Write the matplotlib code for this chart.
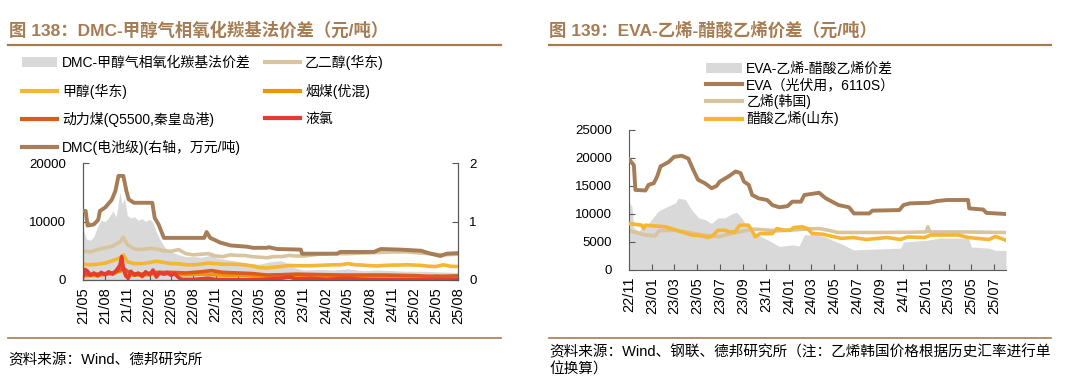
import matplotlib
matplotlib.use('Agg')
import matplotlib.pyplot as plt
import matplotlib.dates as mdates
import pandas as pd
from matplotlib.lines import Line2D
from matplotlib.patches import Patch

plt.rcParams['font.family'] = ['Liberation Sans', 'Noto Sans CJK SC']
plt.rcParams['axes.unicode_minus'] = False

# ---------------- left chart: DMC spread ----------------
spread_dates = ['2021-05-01', '2021-05-15', '2021-06-01', '2021-06-15', '2021-07-01', '2021-07-15',
                '2021-08-01', '2021-08-15', '2021-09-01', '2021-09-15', '2021-10-01', '2021-10-10',
                '2021-10-20', '2021-11-01', '2021-11-15', '2021-12-01', '2021-12-15', '2022-01-01',
                '2022-01-15', '2022-02-01', '2022-02-15', '2022-03-01', '2022-03-15', '2022-04-01',
                '2022-04-15', '2022-05-01', '2022-06-01', '2022-07-01', '2022-08-01', '2022-09-01',
                '2022-10-01', '2022-10-15', '2022-11-01', '2022-12-01', '2023-01-01', '2023-02-01',
                '2023-03-01', '2023-04-01', '2023-05-01', '2023-06-01', '2023-07-01', '2023-08-01',
                '2023-09-01', '2023-10-01', '2023-11-01', '2024-01-01', '2024-03-01', '2024-05-01',
                '2024-07-01', '2024-09-01', '2024-11-01', '2025-01-01', '2025-03-01', '2025-05-01',
                '2025-08-01']
spread = [8800, 7000, 6800, 7400, 9200, 10200, 10000, 10600, 11800, 10800, 15000, 13000,
          14000, 11000, 10600, 10800, 10200, 10500, 10000, 10400, 9800, 8200, 7000, 5800,
          5200, 4800, 4300, 4000, 4000, 3900, 4100, 4900, 3800, 3600, 3400, 3200,
          2900, 2800, 2700, 3000, 3200, 3300, 2700, 2000, 1700, 1800, 1700, 1900,
          1600, 1700, 1600, 1500, 1500, 1400, 1300]

meg_dates = ['2021-05-01', '2021-06-01', '2021-07-01', '2021-08-01', '2021-09-01', '2021-10-01',
             '2021-10-15', '2021-11-01', '2021-12-01', '2022-01-01', '2022-02-01', '2022-03-01',
             '2022-04-01', '2022-05-01', '2022-06-01', '2022-07-01', '2022-08-01', '2022-09-01',
             '2022-10-01', '2022-11-01', '2022-12-01', '2023-01-01', '2023-02-01', '2023-03-01',
             '2023-04-01', '2023-05-01', '2023-06-01', '2023-07-01', '2023-08-01', '2023-09-01',
             '2023-10-01', '2023-11-01', '2024-01-01', '2024-03-01', '2024-05-01', '2024-07-01',
             '2024-09-01', '2024-11-01', '2025-01-01', '2025-03-01', '2025-05-01', '2025-06-01',
             '2025-08-01']
meg = [5000, 4800, 5200, 5500, 5800, 6500, 7300, 6000, 5300, 5200, 5400, 5300,
       5000, 4900, 5200, 4500, 4300, 4400, 4500, 4100, 4000, 4300, 4200, 4200,
       4000, 3900, 3800, 4000, 4000, 4200, 4100, 4100, 4400, 4500, 4500, 4600,
       4700, 4800, 4800, 4600, 4400, 4300, 4400]

meoh_dates = ['2021-05-01', '2021-06-01', '2021-07-01', '2021-08-01', '2021-09-01', '2021-10-01',
              '2021-10-15', '2021-11-01', '2021-12-01', '2022-01-01', '2022-02-01', '2022-03-01',
              '2022-04-01', '2022-05-01', '2022-06-01', '2022-07-01', '2022-08-01', '2022-09-01',
              '2022-10-01', '2022-11-01', '2022-12-01', '2023-01-01', '2023-02-01', '2023-03-01',
              '2023-04-01', '2023-05-01', '2023-06-01', '2023-07-01', '2023-08-01', '2023-09-01',
              '2023-10-01', '2023-11-01', '2023-12-01', '2024-01-01', '2024-02-01', '2024-03-01',
              '2024-04-01', '2024-05-01', '2024-06-01', '2024-07-01', '2024-08-01', '2024-09-01',
              '2024-10-01', '2024-11-01', '2024-12-01', '2025-01-01', '2025-02-01', '2025-03-01',
              '2025-04-01', '2025-05-01', '2025-06-01', '2025-07-01', '2025-08-01']
meoh = [2700, 2600, 2700, 2900, 3300, 3800, 4300, 3100, 2800, 2800, 3000, 3200,
        3000, 2800, 2800, 2600, 2600, 2700, 2900, 2800, 2700, 2700, 2650, 2600,
        2400, 2150, 2050, 2200, 2300, 2500, 2450, 2450, 2450, 2500, 2550, 2600,
        2600, 2800, 2600, 2550, 2450, 2400, 2500, 2550, 2550, 2600, 2550, 2500,
        2350, 2300, 2600, 2350, 2300]

coal_dates = ['2021-05-01', '2021-07-01', '2021-09-01', '2021-10-15', '2021-11-15', '2022-01-01',
              '2022-03-01', '2022-05-01', '2022-07-01', '2022-09-01', '2022-11-01', '2023-01-01',
              '2023-03-01', '2023-05-01', '2023-07-01', '2023-09-01', '2023-11-01', '2024-01-01',
              '2024-03-01', '2024-05-01', '2024-07-01', '2024-09-01', '2024-11-01', '2025-01-01',
              '2025-03-01', '2025-05-01', '2025-08-01']
coal = [700, 800, 1100, 1700, 900, 800, 1100, 1000, 900, 1000, 900, 800,
        800, 600, 550, 650, 650, 600, 550, 550, 550, 550, 550, 500,
        450, 400, 450]

steam_dates = ['2021-05-01', '2021-07-01', '2021-09-01', '2021-10-15', '2021-11-15', '2022-01-01',
               '2022-03-01', '2022-05-01', '2022-07-01', '2022-09-01', '2022-10-15', '2022-12-01',
               '2023-02-01', '2023-04-01', '2023-06-01', '2023-08-01', '2023-10-01', '2023-12-01',
               '2024-02-01', '2024-04-01', '2024-06-01', '2024-08-01', '2024-10-01', '2024-12-01',
               '2025-02-01', '2025-04-01', '2025-06-01', '2025-08-01']
steam = [900, 1000, 1200, 2000, 1100, 1000, 1300, 1300, 1200, 1400, 1600, 1300,
         1200, 1100, 850, 900, 1000, 950, 900, 850, 850, 850, 850, 800,
         750, 650, 650, 700]

cl_dates = ['2021-05-01', '2021-05-10', '2021-05-20', '2021-06-01', '2021-06-15', '2021-07-01',
            '2021-07-15', '2021-08-01', '2021-08-15', '2021-09-01', '2021-09-15', '2021-10-01',
            '2021-10-08', '2021-10-15', '2021-10-25', '2021-11-05', '2021-11-15', '2021-12-01',
            '2021-12-15', '2022-01-01', '2022-01-15', '2022-02-01', '2022-02-15', '2022-03-01',
            '2022-03-15', '2022-04-01', '2022-04-15', '2022-05-01', '2022-05-15', '2022-06-01',
            '2022-06-15', '2022-08-01', '2022-10-01', '2022-11-01', '2023-01-01', '2023-05-01',
            '2023-08-01', '2023-09-01', '2023-10-01', '2023-12-01', '2024-02-01', '2024-05-01',
            '2024-07-01', '2024-09-01', '2025-01-01', '2025-08-01']
cl = [600, 1800, 1500, 800, 1200, 700, 1300, 900, 1400, 1000, 1600, 2500,
      4000, 2000, 700, 300, 1500, 800, 1200, 600, 1400, 900, 1700, 500,
      1300, 1000, 1300, 800, 1100, 400, 100, 100, 300, 100, 50, 50,
      300, 500, 200, 300, 100, 300, 100, 50, 50, 50]

dmc_dates = ['2021-05-01', '2021-05-12', '2021-05-20', '2021-06-15', '2021-07-03', '2021-07-10',
             '2021-08-01', '2021-08-28', '2021-09-12', '2021-09-25', '2021-10-15', '2021-10-28',
             '2021-11-06', '2021-11-28', '2022-02-12', '2022-02-22', '2022-03-10', '2022-04-01',
             '2022-09-15', '2022-09-25', '2022-10-10', '2022-11-20', '2023-01-03', '2023-03-10',
             '2023-04-05', '2023-06-01', '2023-06-10', '2023-07-13', '2023-10-20', '2023-10-25',
             '2024-03-18', '2024-04-01', '2024-08-18', '2024-09-15', '2024-12-05', '2025-03-01',
             '2025-04-10', '2025-05-20', '2025-06-15', '2025-08-01']
dmc = [1.18, 1.18, 0.93, 0.95, 1.03, 1.18, 1.24, 1.37, 1.52, 1.78, 1.78, 1.52,
       1.38, 1.32, 1.32, 1.06, 0.95, 0.72, 0.72, 0.82, 0.72, 0.64, 0.59, 0.57,
       0.55, 0.55, 0.56, 0.53, 0.52, 0.45, 0.45, 0.48, 0.48, 0.53, 0.52, 0.50,
       0.45, 0.41, 0.45, 0.46]

left_ticks = ['2021-05-01', '2021-08-01', '2021-11-01', '2022-02-01', '2022-05-01', '2022-08-01',
              '2022-11-01', '2023-02-01', '2023-05-01', '2023-08-01', '2023-11-01', '2024-02-01',
              '2024-05-01', '2024-08-01', '2024-11-01', '2025-02-01', '2025-05-01', '2025-08-01']

# ---------------- right chart: EVA spread ----------------
eva_dates = ['2022-11-01', '2022-11-14', '2022-11-18', '2022-12-15', '2022-12-23', '2023-01-06',
             '2023-01-15', '2023-01-24', '2023-02-15', '2023-03-01', '2023-03-21', '2023-04-08',
             '2023-04-21', '2023-05-04', '2023-05-22', '2023-06-09', '2023-06-22', '2023-07-01',
             '2023-07-24', '2023-08-12', '2023-08-25', '2023-09-03', '2023-09-16', '2023-09-25',
             '2023-10-12', '2023-11-04', '2023-11-18', '2023-12-06', '2023-12-28', '2024-01-10',
             '2024-02-02', '2024-02-11', '2024-03-03', '2024-03-21', '2024-04-08', '2024-04-25',
             '2024-05-12', '2024-06-09', '2024-06-22', '2024-08-02', '2024-08-10', '2024-10-21',
             '2024-11-01', '2024-11-18', '2025-01-09', '2025-01-28', '2025-02-24', '2025-04-22',
             '2025-04-25', '2025-06-01', '2025-06-10', '2025-08-01']
eva = [19800, 18700, 14300, 14200, 15200, 15500, 16700, 18500, 19300, 20200, 20400, 19900,
       17900, 16100, 15500, 14600, 15000, 15800, 16700, 17600, 17300, 15800, 15200, 13400,
       12800, 12500, 11600, 11200, 11400, 12200, 12200, 13400, 13600, 13800, 12800, 12200,
       11600, 11200, 10100, 10100, 10600, 10700, 11600, 11900, 12000, 12300, 12500, 12500,
       11000, 10800, 10200, 10000]

eth_dates = ['2022-11-01', '2022-12-15', '2023-01-10', '2023-01-20', '2023-03-01', '2023-04-01',
             '2023-05-15', '2023-06-30', '2023-07-15', '2023-08-20', '2023-10-01', '2023-12-01',
             '2024-02-15', '2024-03-20', '2024-04-15', '2024-05-10', '2024-09-01', '2024-12-01',
             '2025-01-01', '2025-01-05', '2025-01-10', '2025-04-01', '2025-08-01']
eth = [7000, 6250, 6100, 7000, 7100, 6800, 6250, 5950, 6250, 6800, 7300, 7000,
       7300, 7400, 7100, 6700, 6700, 6750, 6800, 7700, 6800, 6800, 6700]

va_dates = ['2022-11-01', '2022-12-05', '2022-12-10', '2022-12-15', '2023-02-07', '2023-03-12',
            '2023-04-17', '2023-05-13', '2023-05-31', '2023-06-13', '2023-06-26', '2023-07-14',
            '2023-07-27', '2023-08-10', '2023-08-23', '2023-09-15', '2023-09-24', '2023-10-03',
            '2023-10-16', '2023-11-17', '2023-11-30', '2023-12-18', '2024-01-05', '2024-01-14',
            '2024-02-06', '2024-02-19', '2024-03-03', '2024-03-30', '2024-04-26', '2024-05-19',
            '2024-06-20', '2024-07-25', '2024-09-18', '2024-10-24', '2024-11-12', '2024-12-27',
            '2025-01-13', '2025-03-27', '2025-04-23', '2025-06-17', '2025-07-04', '2025-08-01']
va = [8300, 8000, 7400, 8000, 7700, 7000, 6250, 6100, 5800, 6200, 7100, 7100,
      6800, 6800, 8000, 8000, 7100, 5950, 6500, 6500, 7400, 7100, 7100, 7600,
      7700, 7400, 6500, 6400, 6000, 5650, 5800, 5450, 5800, 5450, 5900, 5800,
      6250, 6250, 5800, 5450, 6000, 5300]

eva_sp_dates = ['2022-11-01', '2022-11-09', '2022-11-14', '2022-11-27', '2022-12-23', '2023-01-18',
                '2023-02-07', '2023-03-05', '2023-03-12', '2023-03-31', '2023-04-17', '2023-05-06',
                '2023-05-22', '2023-06-09', '2023-06-26', '2023-07-14', '2023-08-01', '2023-08-15',
                '2023-08-28', '2023-09-06', '2023-09-24', '2023-10-12', '2023-11-08', '2023-12-06',
                '2024-01-10', '2024-01-28', '2024-02-11', '2024-03-13', '2024-04-08', '2024-04-26',
                '2024-05-19', '2024-06-20', '2024-10-24', '2024-11-01', '2025-01-01', '2025-02-05',
                '2025-04-23', '2025-05-01', '2025-06-17', '2025-07-04', '2025-08-01']
eva_sp = [12200, 11300, 7500, 7000, 8300, 10500, 11200, 12000, 12800, 12600, 10700, 9300,
          9000, 8300, 9300, 9300, 10000, 10300, 9300, 8300, 6500, 6200, 5300, 4200,
          4500, 4300, 6300, 6300, 5900, 5300, 4700, 3600, 3900, 5000, 5300, 5700,
          5700, 4100, 3900, 3500, 3500]

right_ticks = ['2022-11-01', '2023-01-01', '2023-03-01', '2023-05-01', '2023-07-01', '2023-09-01',
               '2023-11-01', '2024-01-01', '2024-03-01', '2024-05-01', '2024-07-01', '2024-09-01',
               '2024-11-01', '2025-01-01', '2025-03-01', '2025-05-01', '2025-07-01']

BROWN = '#A67D56'
TITLE = '#A67C52'
GRAY = '#D9D9D9'
BEIGE = '#D8C49E'
YELLOW = '#F6B532'
ORANGE = '#F39300'
DKORANGE = '#DC5A1E'
RED = '#E63B2E'
SPINE = '#595959'

W, H = 1072, 385
fig = plt.figure(figsize=(W / 100, H / 100), dpi=100)


def fx(px):
    return px / W


def fy(py):
    return 1 - py / H


def d(lst):
    return pd.to_datetime(lst)


# titles and rules
fig.text(fx(9), fy(30), '图 138：DMC-甲醇气相氧化羰基法价差（元/吨）', fontsize=12.5,
         fontweight='bold', color=TITLE, va='center', ha='left')
fig.text(fx(549), fy(30), '图 139：EVA-乙烯-醋酸乙烯价差（元/吨）', fontsize=12.5,
         fontweight='bold', color=TITLE, va='center', ha='left')
for x0, x1 in [(8, 501), (549, 1051)]:
    fig.add_artist(Line2D([fx(x0), fx(x1)], [fy(45), fy(45)], color=TITLE, lw=1.6,
                          transform=fig.transFigure))
    fig.add_artist(Line2D([fx(x0), fx(x1)], [fy(338), fy(338)], color=TITLE, lw=1.2,
                          transform=fig.transFigure))
fig.text(fx(8), fy(360), '资料来源：Wind、德邦研究所', fontsize=10.5, va='center', ha='left')
fig.text(fx(549), fy(352), '资料来源：Wind、钢联、德邦研究所（注：乙烯韩国价格根据历史汇率进行单',
         fontsize=10.5, va='center', ha='left')
fig.text(fx(549), fy(370), '位换算）', fontsize=10.5, va='center', ha='left')

# ---------------- left axes ----------------
ax1 = fig.add_axes([fx(83), fy(280), fx(458 - 83), (280 - 163) / H])
ax1.fill_between(d(spread_dates), spread, color=GRAY, lw=0, zorder=1)
ax1.plot(d(meg_dates), meg, color=BEIGE, lw=2.6, zorder=2)
ax1.plot(d(meoh_dates), meoh, color=YELLOW, lw=2.6, zorder=3)
ax1.plot(d(coal_dates), coal, color=ORANGE, lw=2.6, zorder=3)
ax1.plot(d(steam_dates), steam, color=DKORANGE, lw=2.6, zorder=3)
ax1.plot(d(cl_dates), cl, color=RED, lw=2.6, zorder=4)
ax1.set_ylim(0, 20000)
ax1.set_yticks([0, 10000, 20000])
ax1.set_xlim(pd.Timestamp('2021-05-01'), pd.Timestamp('2025-08-01'))
ax1.set_xticks(d(left_ticks))
ax1.xaxis.set_major_formatter(mdates.DateFormatter('%y/%m'))

ax1r = ax1.twinx()
ax1r.plot(d(dmc_dates), dmc, color=BROWN, lw=2.8, zorder=5)
ax1r.set_ylim(0, 2)
ax1r.set_yticks([0, 1, 2])

for a in (ax1, ax1r):
    a.spines['top'].set_visible(False)
    for s in ('left', 'right', 'bottom'):
        a.spines[s].set_color(SPINE)
    a.tick_params(direction='in', length=4, color=SPINE, labelsize=9.5)
ax1.tick_params(axis='x', labelrotation=90, pad=5, labelsize=10.5)
ax1.tick_params(axis='y', pad=12)
ax1r.tick_params(axis='y', pad=8)

# ---------------- right axes ----------------
ax2 = fig.add_axes([fx(629), fy(270), fx(1006 - 629), (270 - 130) / H])
ax2.fill_between(d(eva_sp_dates), eva_sp, color=GRAY, lw=0, zorder=1)
ax2.plot(d(eva_dates), eva, color=BROWN, lw=2.8, zorder=4)
ax2.plot(d(eth_dates), eth, color=BEIGE, lw=2.6, zorder=2)
ax2.plot(d(va_dates), va, color=YELLOW, lw=2.6, zorder=3)
ax2.set_ylim(0, 25000)
ax2.set_yticks(range(0, 25001, 5000))
ax2.set_xlim(pd.Timestamp('2022-11-01'), pd.Timestamp('2025-08-01'))
ax2.set_xticks(d(right_ticks))
ax2.xaxis.set_major_formatter(mdates.DateFormatter('%y/%m'))
ax2.spines['top'].set_visible(False)
ax2.spines['right'].set_visible(False)
for s in ('left', 'bottom'):
    ax2.spines[s].set_color(SPINE)
ax2.tick_params(direction='in', length=4, color=SPINE, labelsize=9.5)
ax2.tick_params(axis='x', labelrotation=90, pad=5, labelsize=10.5)
ax2.tick_params(axis='y', pad=12)

# ---------------- legends ----------------
left_handles = [Patch(facecolor=GRAY, edgecolor='none'),
                Line2D([], [], color=YELLOW, lw=3),
                Line2D([], [], color=DKORANGE, lw=3),
                Line2D([], [], color=BROWN, lw=3),
                Line2D([], [], color=BEIGE, lw=3),
                Line2D([], [], color=ORANGE, lw=3),
                Line2D([], [], color=RED, lw=3)]
left_labels = ['DMC-甲醇气相氧化羰基法价差', '甲醇(华东)', '动力煤(Q5500,秦皇岛港)',
               'DMC(电池级)(右轴，万元/吨)', '乙二醇(华东)', '烟煤(优混)', '液氯']
fig.legend(left_handles, left_labels, loc='upper left', bbox_to_anchor=(fx(22), fy(55)),
           ncol=2, frameon=False, fontsize=10, handlelength=2.5, handletextpad=0.4,
           labelspacing=0.95, columnspacing=1.0, borderaxespad=0, borderpad=0)

right_handles = [Patch(facecolor=GRAY, edgecolor='none'),
                 Line2D([], [], color=BROWN, lw=3),
                 Line2D([], [], color=BEIGE, lw=3),
                 Line2D([], [], color=YELLOW, lw=3)]
right_labels = ['EVA-乙烯-醋酸乙烯价差', 'EVA（光伏用，6110S）', '乙烯(韩国)', '醋酸乙烯(山东)']
fig.legend(right_handles, right_labels, loc='upper left', bbox_to_anchor=(fx(706), fy(62)),
           ncol=1, frameon=False, fontsize=10, handlelength=2.6, handletextpad=0.3,
           labelspacing=0.15, borderaxespad=0, borderpad=0)

fig.savefig('out.png', dpi=100)
